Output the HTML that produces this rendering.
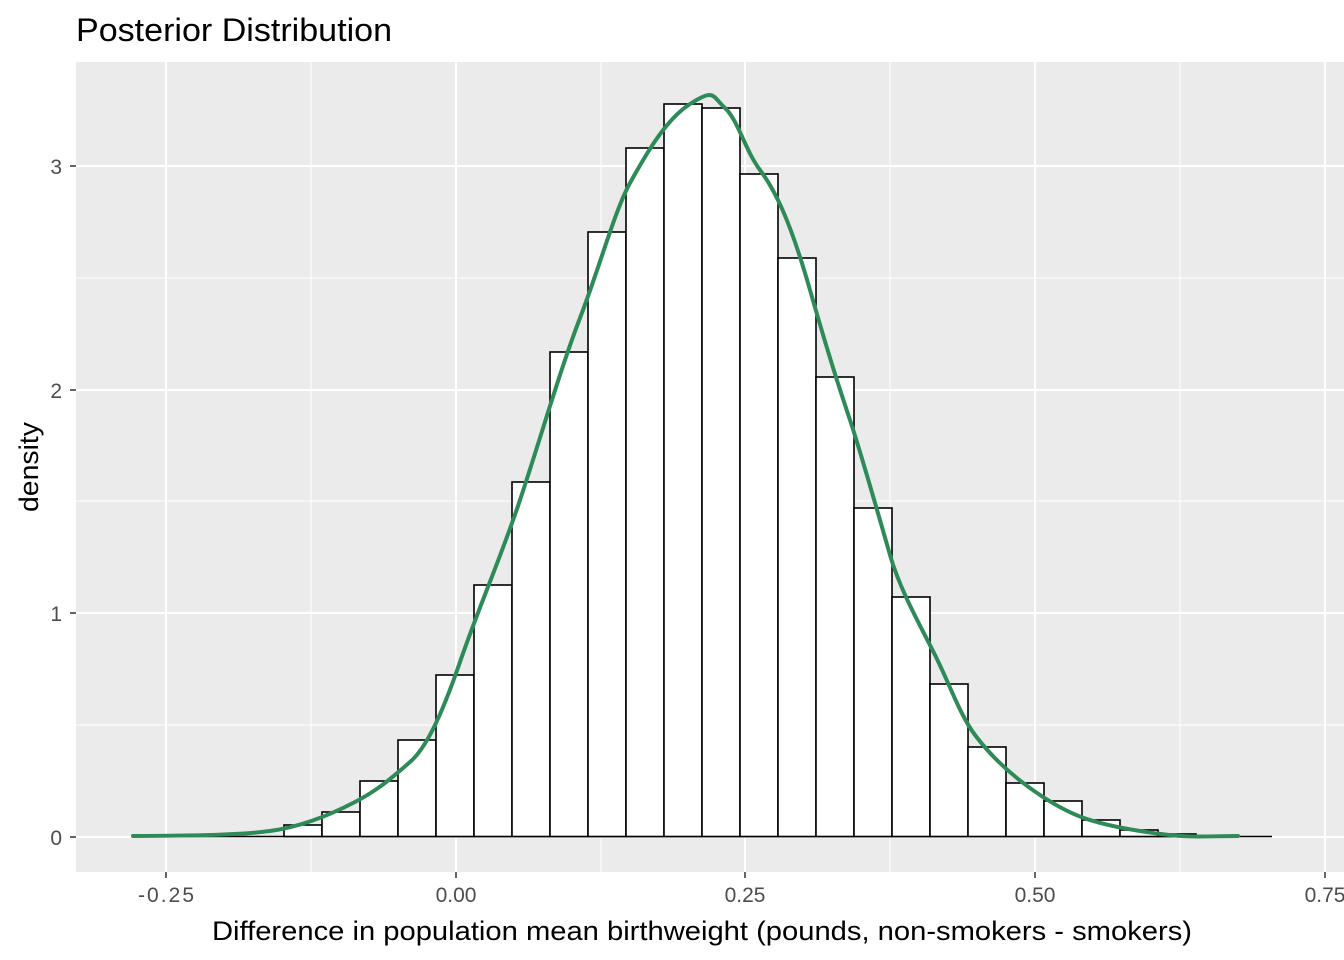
<!DOCTYPE html>
<html><head><meta charset="utf-8"><style>
body{margin:0;background:#fff;}
svg{display:block;font-family:"Liberation Sans",Arial,sans-serif;}
</style></head><body>
<svg width="1344" height="960" viewBox="0 0 1344 960">
<rect x="0" y="0" width="1344" height="960" fill="#fff"/>
<rect x="76" y="62" width="1268" height="810" fill="#ebebeb"/>
<g stroke="#fff" stroke-width="1">
<line x1="76" x2="1344" y1="725" y2="725"/><line x1="76" x2="1344" y1="501" y2="501"/><line x1="76" x2="1344" y1="278" y2="278"/>
<line x1="311" x2="311" y1="62" y2="872"/><line x1="601" x2="601" y1="62" y2="872"/><line x1="890" x2="890" y1="62" y2="872"/><line x1="1180" x2="1180" y1="62" y2="872"/>
</g>
<g stroke="#fff" stroke-width="2">
<line x1="76" x2="1344" y1="837" y2="837"/><line x1="76" x2="1344" y1="613" y2="613"/><line x1="76" x2="1344" y1="390" y2="390"/><line x1="76" x2="1344" y1="166" y2="166"/>
<line x1="166" x2="166" y1="62" y2="872"/><line x1="456" x2="456" y1="62" y2="872"/><line x1="745" x2="745" y1="62" y2="872"/><line x1="1035" x2="1035" y1="62" y2="872"/><line x1="1325" x2="1325" y1="62" y2="872"/>
</g>
<g fill="#fff" stroke="#000" stroke-width="1.6">
<line x1="132" x2="1272" y1="836.5" y2="836.5"/>
<rect x="284" y="825" width="38" height="11.5"/>
<rect x="322" y="812" width="38" height="24.5"/>
<rect x="360" y="781" width="38" height="55.5"/>
<rect x="398" y="740" width="38" height="96.5"/>
<rect x="436" y="675" width="38" height="161.5"/>
<rect x="474" y="585" width="38" height="251.5"/>
<rect x="512" y="482" width="38" height="354.5"/>
<rect x="550" y="352" width="38" height="484.5"/>
<rect x="588" y="232" width="38" height="604.5"/>
<rect x="626" y="148" width="38" height="688.5"/>
<rect x="664" y="104" width="38" height="732.5"/>
<rect x="702" y="108" width="38" height="728.5"/>
<rect x="740" y="174" width="38" height="662.5"/>
<rect x="778" y="258" width="38" height="578.5"/>
<rect x="816" y="377" width="38" height="459.5"/>
<rect x="854" y="508" width="38" height="328.5"/>
<rect x="892" y="597" width="38" height="239.5"/>
<rect x="930" y="684" width="38" height="152.5"/>
<rect x="968" y="747" width="38" height="89.5"/>
<rect x="1006" y="783" width="38" height="53.5"/>
<rect x="1044" y="801" width="38" height="35.5"/>
<rect x="1082" y="820" width="38" height="16.5"/>
<rect x="1120" y="830" width="38" height="6.5"/>
<rect x="1158" y="834" width="38" height="2.5"/>
</g>
<path fill="none" stroke="#2e8b57" stroke-width="4" stroke-linejoin="round" stroke-linecap="round" d="M133,836 C200,835.5 240,835 270,831 S330,815 355,802 S395,775 410,762 S440,720 460,662 S500,560 520,500 S560,370 580,318 S615,210 630,183 S665,120 690,104 S712,96 725,108 S745,150 760,170 S790,220 810,290 S840,390 850,420 S880,520 890,555 S920,625 935,655 S960,715 975,735 S1010,775 1040,795 S1090,823 1140,831 S1200,836 1238,836"/>
<g fill="#4d4d4d" font-size="21">
<text x="62" y="845" text-anchor="end">0</text>
<text x="62" y="621" text-anchor="end">1</text>
<text x="62" y="398" text-anchor="end">2</text>
<text x="62" y="174" text-anchor="end">3</text>
<text x="166" y="902" text-anchor="middle" textLength="56">-0.25</text>
<text x="456" y="902" text-anchor="middle">0.00</text>
<text x="745" y="902" text-anchor="middle">0.25</text>
<text x="1035" y="902" text-anchor="middle">0.50</text>
<text x="1325" y="902" text-anchor="middle">0.75</text>
</g>
<g stroke="#333" stroke-width="1.5">
<line x1="70" x2="76" y1="837" y2="837"/><line x1="70" x2="76" y1="613" y2="613"/><line x1="70" x2="76" y1="390" y2="390"/><line x1="70" x2="76" y1="166" y2="166"/>
<line x1="166" x2="166" y1="872" y2="878"/><line x1="456" x2="456" y1="872" y2="878"/><line x1="745" x2="745" y1="872" y2="878"/><line x1="1035" x2="1035" y1="872" y2="878"/><line x1="1325" x2="1325" y1="872" y2="878"/>
</g>
<text x="212" y="940" font-size="27" fill="#000" textLength="980" lengthAdjust="spacingAndGlyphs">Difference in population mean birthweight (pounds, non-smokers - smokers)</text>
<text transform="translate(38,467) rotate(-90)" text-anchor="middle" font-size="27" fill="#000" textLength="90" lengthAdjust="spacingAndGlyphs">density</text>
<text x="76" y="41" font-size="32" fill="#000" textLength="316" lengthAdjust="spacingAndGlyphs">Posterior Distribution</text>
</svg>
</body></html>
